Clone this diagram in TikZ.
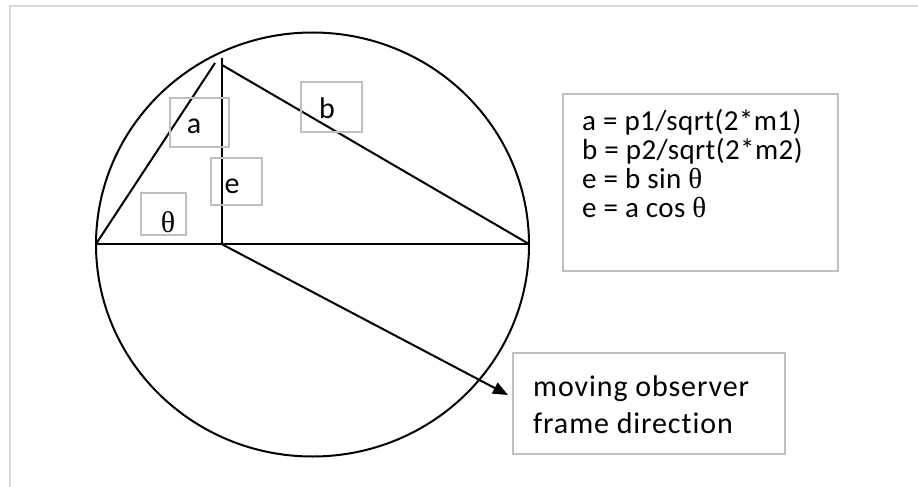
\documentclass[tikz,border=0pt]{standalone}
\usepackage{fontspec}
\setmainfont[Ligatures={NoCommon,NoContextual}]{Carlito}
\newfontfamily\thetafont{Liberation Serif}
\newfontfamily\obsfont[LetterSpace=3,Ligatures={NoCommon,NoContextual}]{Carlito}
\newfontfamily\eqfont[LetterSpace=1.5,Ligatures={NoCommon,NoContextual}]{Carlito}
\usetikzlibrary{arrows.meta}
\definecolor{boxgray}{HTML}{BFBFBF}
\definecolor{framegray}{HTML}{D9D9D9}
\begin{document}
\begin{tikzpicture}[x=1pt,y=-1pt,
  gbox/.style={draw=boxgray, line width=1.5pt, inner sep=0pt, rectangle},
  geo/.style={line width=2pt, draw=black},
  lbl/.style={inner sep=0pt, anchor=base, font=\fontsize{30}{30}\selectfont},
  eqtxt/.style={inner sep=0pt, anchor=base west, font=\fontsize{29}{29}\selectfont},
  obstxt/.style={inner sep=0pt, anchor=base west, font=\fontsize{30}{30}\selectfont}]
\useasboundingbox (0,0) rectangle (918,487);
% outer frame
\draw[framegray, line width=2pt] (10,487) -- (10,6) -- (918,6);
% circle
\coordinate (C) at (312.5,244.5);
\draw[geo] (C) ellipse [x radius=216.5, y radius=212];
% key points
\coordinate (L) at (96,244);
\coordinate (R) at (529,244);
\coordinate (F) at (221.5,244);
\coordinate (T) at (221.5,58);
\coordinate (A) at (215,63);
\coordinate (B) at (222,65);
\coordinate (P) at (508,395);
% lines
\draw[geo] (L) -- (R);
\draw[geo] (F) -- (T);
\draw[geo] (L) -- (A);
\draw[geo] (B) -- (R);
\draw[geo, -{Triangle[length=15pt, width=12pt]}] (F) -- (P);
% label boxes
\node[gbox, minimum width=59pt, minimum height=49pt] (abox) at (199.5,122.5) {};
\node[gbox, minimum width=51pt, minimum height=47pt] (ebox) at (236.5,181.5) {};
\node[gbox, minimum width=45pt, minimum height=42pt] (tbox) at (163.5,214) {};
\node[gbox, minimum width=61pt, minimum height=50pt] (bbox) at (331.5,107) {};
\node[gbox, minimum width=275pt, minimum height=177pt] (eqbox) at (700.5,182.5) {};
\node[gbox, minimum width=272pt, minimum height=101pt] (obsbox) at (649,403.5) {};
% labels
\node[lbl] (la) at (194,133) {a};
\node[lbl] (le) at (232,193) {e};
\node[lbl] (lb) at (327,118) {b};
\node[lbl] (lt) at (168,232) {\thetafont θ};
% equations
\node[eqtxt] (eq1) at (582,130) {\eqfont a = p1/sqrt(2*m1)};
\node[eqtxt] (eq2) at (582,159) {\eqfont b = p2/sqrt(2*m2)};
\node[eqtxt] (eq3) at (582,188) {\eqfont e = b sin {\thetafont θ}};
\node[eqtxt] (eq4) at (582,217) {\eqfont e = a cos {\thetafont θ}};
% observer text
\node[obstxt] (ob1) at (533,396) {\obsfont moving observer};
\node[obstxt] (ob2) at (533,433) {\obsfont frame direction};
\end{tikzpicture}
\end{document}
